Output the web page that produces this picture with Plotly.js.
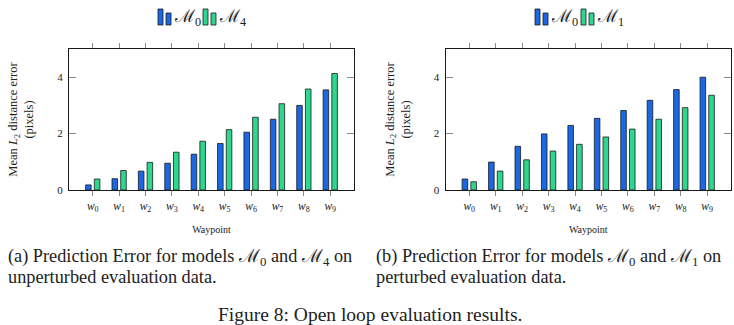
<!DOCTYPE html>
<html>
<head>
<meta charset="utf-8">
<script src="https://cdn.plot.ly/plotly-3.0.1.min.js"></script>
<style>html,body{margin:0;padding:0;background:#fff;}#chart{width:734px;height:325px;}</style>
</head>
<body>
<div id="chart"></div>
<script>
// ---- data ----
const waypoints = [0, 1, 2, 3, 4, 5, 6, 7, 8, 9];
const tickLabels = ['<i>w</i><sub>0</sub>', '<i>w</i><sub>1</sub>', '<i>w</i><sub>2</sub>', '<i>w</i><sub>3</sub>', '<i>w</i><sub>4</sub>',
                    '<i>w</i><sub>5</sub>', '<i>w</i><sub>6</sub>', '<i>w</i><sub>7</sub>', '<i>w</i><sub>8</sub>', '<i>w</i><sub>9</sub>'];
const leftM0  = [0.18, 0.40, 0.67, 0.95, 1.27, 1.65, 2.05, 2.51, 3.00, 3.55];
const leftM4  = [0.39, 0.69, 0.98, 1.34, 1.73, 2.14, 2.58, 3.06, 3.58, 4.13];
const rightM0 = [0.39, 0.99, 1.55, 1.99, 2.29, 2.54, 2.82, 3.18, 3.56, 4.00];
const rightM1 = [0.29, 0.67, 1.07, 1.38, 1.62, 1.88, 2.16, 2.51, 2.92, 3.36];
const yTicks = [0, 2, 4];
const leftNames = ['ℳ<sub>0</sub>', 'ℳ<sub>4</sub>'];
const rightNames = ['ℳ<sub>0</sub>', 'ℳ<sub>1</sub>'];
const yTitle = 'Mean <i>L</i><sub>2</sub> distance error<br>(pixels)';
const xTitle = 'Waypoint';
const captionA = ['(a) Prediction Error for models ℳ<sub>0</sub> and ℳ<sub>4</sub> on', 'unperturbed evaluation data.'];
const captionB = ['(b) Prediction Error for models ℳ<sub>0</sub> and ℳ<sub>1</sub> on', 'perturbed evaluation data.'];
const figCaption = 'Figure 8: Open loop evaluation results.';

// ---- style ----
const BLUE = '#1a68e4';
const GREEN = '#2ed78e';
const EDGE = '#1a1a1a';
const SERIF = '"Liberation Serif", "DejaVu Serif", serif';
const W = 734, H = 325;
const px = v => v / W;
const py = v => 1 - v / H;

function barTrace(y, color, name, xa, ya) {
  return {
    type: 'bar', x: waypoints, y: y, name: name, xaxis: xa, yaxis: ya,
    marker: {color: color, line: {color: EDGE, width: 0.8}},
    showlegend: false, hoverinfo: 'skip'
  };
}

const data = [
  barTrace(leftM0, BLUE, leftNames[0], 'x', 'y'),
  barTrace(leftM4, GREEN, leftNames[1], 'x', 'y'),
  barTrace(rightM0, BLUE, rightNames[0], 'x2', 'y2'),
  barTrace(rightM1, GREEN, rightNames[1], 'x2', 'y2')
];

function xAxis(domain, anchor) {
  return {
    domain: domain, anchor: anchor, range: [-0.9, 9.9],
    tickvals: waypoints, ticktext: tickLabels,
    ticks: 'outside', ticklen: 5, tickcolor: '#8a8a8a', tickwidth: 1,
    mirror: 'allticks', showline: true, linecolor: EDGE, linewidth: 1,
    showgrid: false, zeroline: false,
    tickfont: {family: SERIF, size: 11.5, color: '#222'},
    title: {text: xTitle, font: {family: SERIF, size: 10, color: '#222'}, standoff: 12}
  };
}
function yAxis(domain, anchor) {
  return {
    domain: domain, anchor: anchor, range: [0, 5],
    tickvals: yTicks, ticktext: yTicks.map(String),
    ticks: 'inside', ticklen: 7, tickcolor: '#8a8a8a', tickwidth: 1,
    mirror: 'allticks', showline: true, linecolor: EDGE, linewidth: 1,
    showgrid: false, zeroline: false,
    tickfont: {family: SERIF, size: 11, color: '#222'},
    ticklabelstandoff: 3,
    title: {text: yTitle, font: {family: SERIF, size: 12.5, color: '#222'}, standoff: 20}
  };
}

const yDom = [1 - 190 / H, 1 - 49 / H];
const layout = {
  width: W, height: H,
  margin: {l: 0, r: 0, t: 0, b: 0},
  paper_bgcolor: '#fff', plot_bgcolor: '#fff',
  barmode: 'group', bargap: 0.34, bargroupgap: 0.36,
  showlegend: false,
  xaxis: xAxis([px(69), px(354)], 'y'),
  yaxis: yAxis(yDom, 'x'),
  xaxis2: xAxis([px(445.5), px(731)], 'y2'),
  yaxis2: yAxis(yDom, 'x2'),
  shapes: [],
  annotations: []
};

// legend entries: two-bar icon + label
function legendEntry(x0, color, label) {
  const bars = [[x0, x0 + 5, 9], [x0 + 8, x0 + 13, 13]];
  bars.forEach(b => layout.shapes.push({
    type: 'rect', xref: 'paper', yref: 'paper',
    x0: px(b[0]), x1: px(b[1]), y0: py(25), y1: py(b[2]),
    fillcolor: color, line: {color: EDGE, width: 0.8}
  }));
  layout.annotations.push({
    xref: 'paper', yref: 'paper', x: px(x0 + 14), y: py(18),
    xanchor: 'left', yanchor: 'middle', showarrow: false,
    text: label, font: {family: SERIF, size: 17.5, color: '#222'}
  });
}
legendEntry(158, BLUE, leftNames[0]);
legendEntry(203, GREEN, leftNames[1]);
legendEntry(535, BLUE, rightNames[0]);
legendEntry(581, GREEN, rightNames[1]);

// captions
function captionLine(x, y, text, size, anchor) {
  layout.annotations.push({
    xref: 'paper', yref: 'paper', x: px(x), y: py(y), xanchor: anchor, yanchor: 'middle',
    align: 'left', showarrow: false, text: text,
    font: {family: SERIF, size: size, color: '#222'}
  });
}
captionLine(6, 257, captionA[0], 18.3, 'left');
captionLine(6, 277, captionA[1], 18.3, 'left');
captionLine(374, 257, captionB[0], 18.3, 'left');
captionLine(374, 277, captionB[1], 18.3, 'left');
captionLine(370, 314, figCaption, 19.5, 'center');

Plotly.newPlot('chart', data, layout, {staticPlot: true, displayModeBar: false});
</script>
</body>
</html>
